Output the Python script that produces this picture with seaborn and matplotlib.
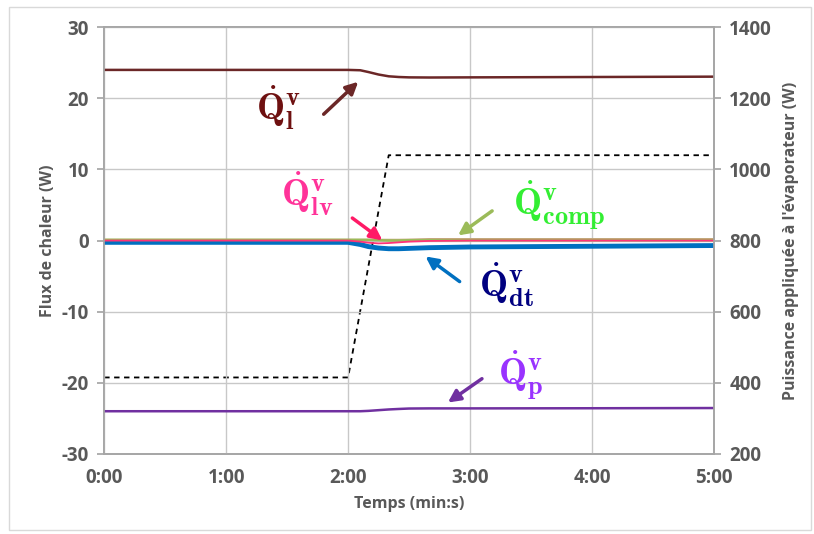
import pandas as pd
import numpy as np
import matplotlib.pyplot as plt
import seaborn as sns
from matplotlib.patches import Rectangle

# Data (time in seconds)
t = [0, 60, 120, 126, 130, 135, 140, 145, 150, 160, 180, 240, 300]
q_l = [24.0, 24.0, 24.0, 23.95, 23.7, 23.35, 23.1, 23.0, 22.95, 22.93, 22.95, 23.0, 23.05]
q_p = [-24.0, -24.0, -24.0, -24.0, -23.95, -23.85, -23.75, -23.68, -23.62, -23.6, -23.6, -23.58, -23.55]
q_dt = [-0.25, -0.25, -0.25, -0.55, -0.85, -1.05, -1.15, -1.15, -1.1, -1.0, -0.9, -0.8, -0.7]
q_lv = [0.0, 0.0, 0.0, -0.15, -0.3, -0.4, -0.35, -0.25, -0.15, -0.05, 0.0, 0.0, 0.0]
q_comp = [0.1, 0.1, 0.1, 0.1, 0.1, 0.05, 0.0, 0.0, 0.05, 0.05, 0.05, 0.05, 0.05]
q_autre = [0.1, 0.1, 0.1, 0.1, 0.1, 0.1, 0.1, 0.1, 0.12, 0.2, 0.2, 0.2, 0.2]

t_p = [0, 120, 140, 300]
puissance = [415, 415, 1040, 1040]

xticks = [0, 60, 120, 180, 240, 300]
xlabels = ['0:00', '1:00', '2:00', '3:00', '4:00', '5:00']
yticks_l = [-30, -20, -10, 0, 10, 20, 30]
yticks_r = [200, 400, 600, 800, 1000, 1200, 1400]

sns.set_theme(style='white')
plt.rcParams['font.family'] = ['Open Sans', 'DejaVu Sans']
plt.rcParams['mathtext.fontset'] = 'cm'
gray = '#595959'

fig = plt.figure(figsize=(8.14, 5.34), dpi=100)
fig.patches.append(Rectangle((0.011, 0.008), 0.985, 0.979, transform=fig.transFigure,
                             fill=False, edgecolor='#d9d9d9', linewidth=1))
ax = fig.add_axes([0.128, 0.150, 0.749, 0.799])
ax2 = ax.twinx()

# Right axis: applied power
sns.lineplot(x=t_p, y=puissance, ax=ax2, color='black', linestyle=(0, (3, 2.5)), linewidth=1.3)

# Left axis: heat fluxes
sns.lineplot(x=t, y=q_l, ax=ax, color='#6B2727', linewidth=1.8)
sns.lineplot(x=t, y=q_p, ax=ax, color='#7030A0', linewidth=1.8)
sns.lineplot(x=t, y=q_dt, ax=ax, color='#0070C0', linewidth=3.5)
sns.lineplot(x=t, y=q_autre, ax=ax, color='#C4A57A', linewidth=1.6)
sns.lineplot(x=t, y=q_comp, ax=ax, color='#9BBB59', linewidth=1.8)
sns.lineplot(x=t, y=q_lv, ax=ax, color='#FF3377', linewidth=1.3)

ax.set_zorder(ax2.get_zorder() + 1)
ax.patch.set_visible(False)

ax.set_xlim(0, 300)
ax.set_ylim(-30, 30)
ax2.set_ylim(200, 1400)
tick_font = dict(fontsize=13.5, fontweight='bold', color=gray)
ax.set_xticks(xticks, labels=xlabels, **tick_font)
ax.set_yticks(yticks_l, labels=[str(v) for v in yticks_l], **tick_font)
ax2.set_yticks(yticks_r, labels=[str(v) for v in yticks_r], **tick_font)
ax.grid(True, color='#c8c8c8', linewidth=1)
ax2.grid(False)

for a in (ax, ax2):
    for s in a.spines.values():
        s.set_color('#a6a6a6')
ax.tick_params(axis='x', length=0, pad=10)
ax.tick_params(axis='y', color='#a6a6a6', length=5, pad=6)
ax2.tick_params(axis='y', color='#a6a6a6', length=5, pad=6)

ax.set_xlabel('Temps (min:s)', fontsize=11.5, fontweight='bold', color=gray, labelpad=6)
ax.set_ylabel('Flux de chaleur (W)', fontsize=11.5, fontweight='bold', color=gray, labelpad=4)
ax2.set_ylabel("Puissance appliquée à l'évaporateur (W)", fontsize=11.5, fontweight='bold',
               color=gray, labelpad=8)

# Annotations
def note(text, xy, xytext, tcol, acol, tpos):
    ax.annotate('', xy=xy, xytext=xytext,
                arrowprops=dict(arrowstyle='-|>', color=acol, lw=2.5, mutation_scale=18))
    ax.text(tpos[0], tpos[1], text, color=tcol, fontsize=27, ha='center', va='center')

note(r'$\dot{\mathbf{Q}}^{\mathbf{v}}_{\mathbf{l}}$', (126, 22.6), (107, 17.5),
     '#6E1010', '#6B2727', (86, 18.6))
note(r'$\dot{\mathbf{Q}}^{\mathbf{v}}_{\mathbf{lv}}$', (138, -0.2), (121, 3.4),
     '#FF3399', '#FF1A66', (100, 6.6))
note(r'$\dot{\mathbf{Q}}^{\mathbf{v}}_{\mathbf{comp}}$', (173, 0.5), (192, 4.4),
     '#33EE33', '#9BBB59', (224, 5.0))
note(r'$\dot{\mathbf{Q}}^{\mathbf{v}}_{\mathbf{dt}}$', (157, -2.0), (176, -6.0),
     '#000080', '#0070C0', (198, -6.3))
note(r'$\dot{\mathbf{Q}}^{\mathbf{v}}_{\mathbf{p}}$', (168, -23.0), (187, -19.2),
     '#9933FF', '#7030A0', (205, -18.9))

fig.savefig('out.png', dpi=100)
